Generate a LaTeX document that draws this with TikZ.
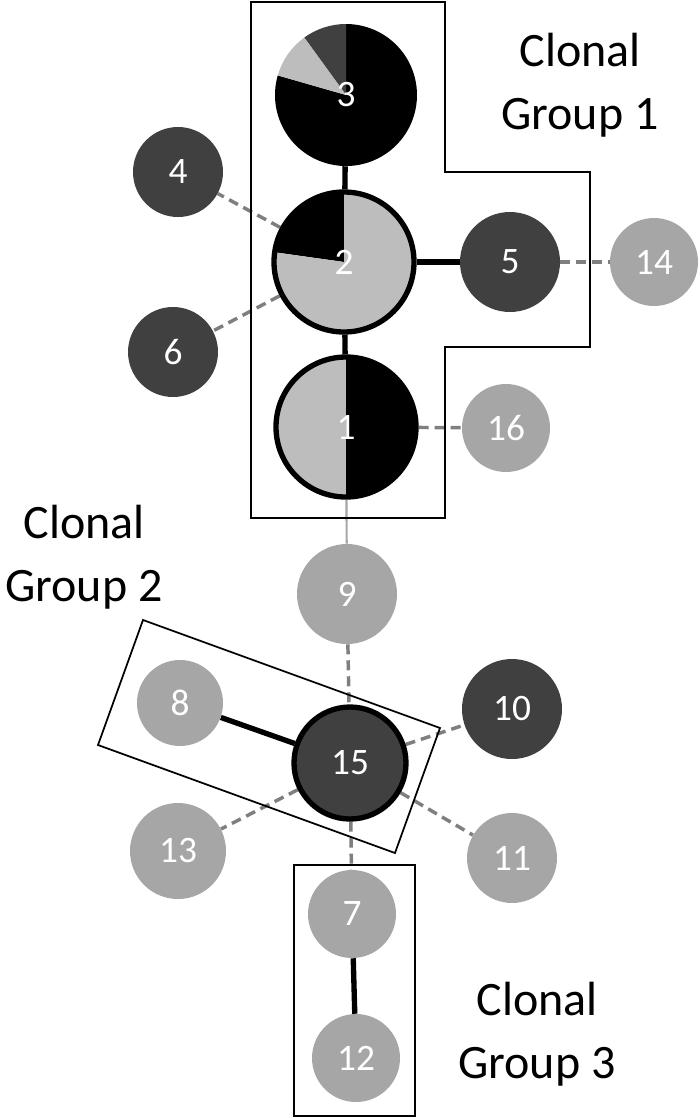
\documentclass[tikz,border=0pt]{standalone}
\usepackage{fontspec}
\setmainfont{Carlito}
\usepackage{xcolor}
\usetikzlibrary{backgrounds}

\definecolor{darknode}{HTML}{404040}
\definecolor{lightnode}{HTML}{A6A6A6}
\definecolor{pieslice}{HTML}{BDBDBD}
\definecolor{dashgray}{HTML}{7F7F7F}

\begin{document}
\begin{tikzpicture}[
    x=0.75pt, y=0.75pt,
    disc/.style={circle, minimum size=#1*1.5pt, inner sep=0pt, text=white, font=\fontsize{28}{32}\selectfont},
    dark/.style={disc=#1, fill=darknode},
    light/.style={disc=#1, fill=lightnode},
    ring/.style={draw=black, line width=4pt},
    tie/.style={line width=4pt},
    link/.style={dashgray, dash pattern=on 7.5pt off 4.5pt, line width=2.6pt},
    faint/.style={lightnode, line width=1.6pt},
    group/.style={draw, line width=1.3pt},
    caption/.style={align=center, font=\fontsize{36}{47}\selectfont}
]
    \useasboundingbox (0,0) rectangle (700,-1118);

    % clonal group outlines
    \draw [group] (251,-2) -- (445,-2) -- (445,-172) -- (590,-172) -- (590,-347) -- (445,-347) -- (445,-518) -- (251,-518) -- cycle;
    \draw [group] (143,-620) -- (440,-728) -- (395,-853) -- (98,-745) -- cycle;
    \draw [group] (294,-865) rectangle (415,-1116);

    % pie nodes
    \coordinate (c3) at (346,-95);
    \coordinate (c2) at (344,-262);
    \coordinate (c1) at (346,-427);
    \fill [black] (c3) -- ++(164:71) arc[start angle=164, end angle=450, radius=71] -- cycle;
    \fill [darknode] (c3) -- ++(90:71) arc[start angle=90, end angle=126, radius=71] -- cycle;
    \fill [pieslice] (c3) -- ++(126:71) arc[start angle=126, end angle=164, radius=71] -- cycle;
    \fill [black] (c2) -- ++(90:70) arc[start angle=90, end angle=172, radius=70] -- cycle;
    \fill [pieslice] (c2) -- ++(172:70) arc[start angle=172, end angle=450, radius=70] -- cycle;
    \fill [pieslice] (c1) -- ++(90:70) arc[start angle=90, end angle=270, radius=70] -- cycle;
    \fill [black] (c1) -- ++(270:70) arc[start angle=270, end angle=450, radius=70] -- cycle;

    \node [disc=71] (n3) at (c3) {3};
    \node [disc=70, ring] (n2) at (c2) {2};
    \node [disc=70, ring] (n1) at (c1) {1};

    \node [dark=45] (n4) at (178,-172) {4};
    \node [dark=45] (n6) at (173,-352) {6};
    \node [dark=50] (n5) at (510,-262) {5};
    \node [light=44] (n14) at (654,-262) {14};
    \node [light=44] (n16) at (506,-428) {16};
    \node [light=50] (n9) at (347,-594) {9};
    \node [light=43] (n8) at (180,-703) {8};
    \node [dark=56, ring] (n15) at (350,-763) {15};
    \node [dark=50] (n10) at (512,-709) {10};
    \node [light=48] (n13) at (178,-851) {13};
    \node [light=45] (n11) at (512,-858) {11};
    \node [light=44] (n7) at (352,-914) {7};
    \node [light=44] (n12) at (356,-1058) {12};

    \begin{scope}[on background layer]
        \draw [tie] (n3) -- (n2);
        \draw [tie] (n2) -- (n1);
        \draw [tie] (n2) -- (n5);
        \draw [tie] (n8) -- (n15);
        \draw [tie] (n7) -- (n12);
        \draw [faint] (n1) -- (n9);
        \draw [link] (n2) -- (n4);
        \draw [link] (n2) -- (n6);
        \draw [link] (n5) -- (n14);
        \draw [link] (n1) -- (n16);
        \draw [link] (n9) -- (n15);
        \draw [link] (n15) -- (n10);
        \draw [link] (n15) -- (n13);
        \draw [link] (n15) -- (n11);
        \draw [link] (n15) -- (n7);
    \end{scope}

    \node [caption] (cg1) at (580,-85) {Clonal\\Group 1};
    \node [caption] (cg2) at (84,-557) {Clonal\\Group 2};
    \node [caption] (cg3) at (537,-1034) {Clonal\\Group 3};
\end{tikzpicture}
\end{document}
